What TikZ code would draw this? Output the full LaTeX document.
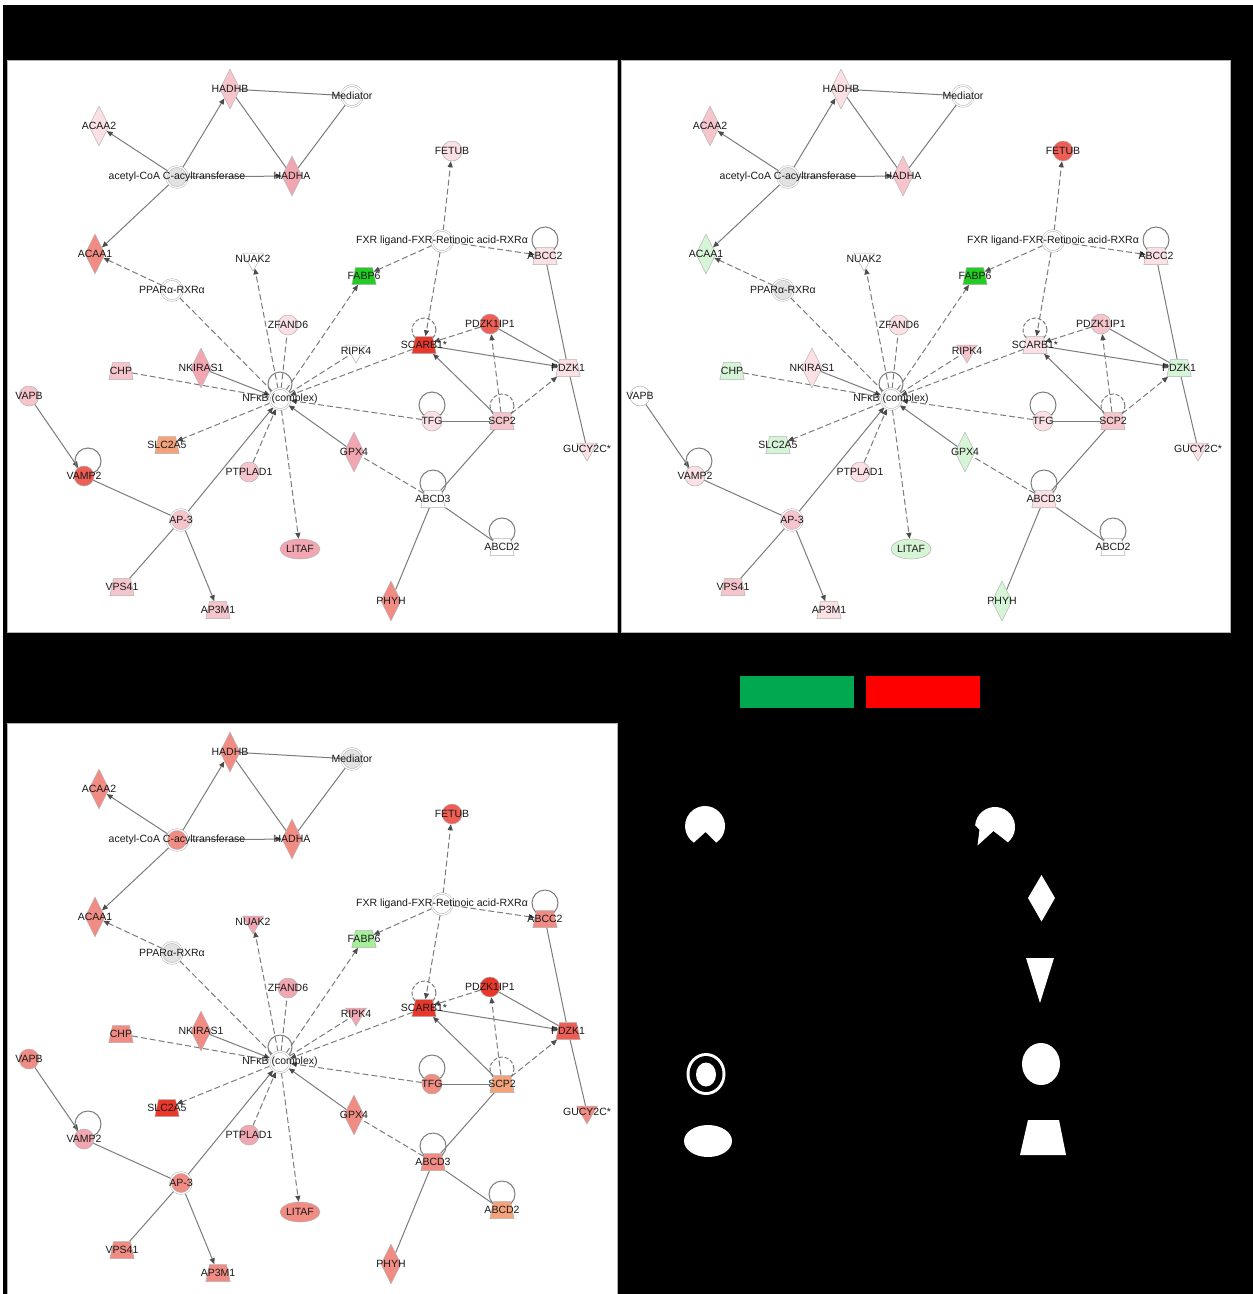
\documentclass[tikz,border=0pt]{standalone}
\usepackage{fontspec}
\newfontfamily\ipafont{Liberation Sans}
\usetikzlibrary{arrows.meta, shapes.geometric}
\usepackage{xcolor}
% palette of expression fills
\definecolor{wh}{HTML}{FFFFFF}
\definecolor{gy}{HTML}{E2E2E2}
\definecolor{pkA}{HTML}{FBE0E4}
\definecolor{pkB}{HTML}{F6C5CC}
\definecolor{pkC}{HTML}{F2A6B1}
\definecolor{sal}{HTML}{F08C84}
\definecolor{rdA}{HTML}{EE5E54}
\definecolor{rdB}{HTML}{E8382C}
\definecolor{gnA}{HTML}{D6F5D6}
\definecolor{gnB}{HTML}{22CC22}
\definecolor{gnC}{HTML}{A6EE9A}
\definecolor{orA}{HTML}{F4A27A}
\definecolor{legendgreen}{RGB}{0,169,79}
\definecolor{legendred}{RGB}{255,0,0}
\definecolor{edgegray}{HTML}{7C7C7C}

\pgfdeclarelayer{bg}\pgfdeclarelayer{links}
\pgfsetlayers{bg,links,main}

\tikzset{
  gene/.style={draw=gray!60, line width=0.5pt, inner sep=0.5pt},
  enzyme/.style={gene, diamond, minimum width=20pt, minimum height=40pt},
  other/.style={gene, circle, minimum size=20pt},
  cplx/.style={gene, circle, double, double distance=1.2pt, minimum size=21pt},
  transp/.style={gene, trapezium, trapezium left angle=78, trapezium right angle=78, minimum width=22pt, minimum height=17pt},
  kinase/.style={gene, regular polygon, regular polygon sides=3, shape border rotate=180, minimum size=24pt},
  tfac/.style={gene, ellipse, minimum width=40pt, minimum height=20pt},
  lbl/.style={font=\ipafont\fontsize{10.5}{12}\selectfont, text=black!90, inner sep=0pt},
  rel/.style={draw=edgegray, line width=1pt},
  ind/.style={rel, dash pattern=on 6pt off 3pt},
  act/.style={-{Triangle[length=6pt,width=5pt,color=black!70]}},
  selfloop/.style={draw=edgegray, line width=1pt}
}

% one fill per gene and panel
\newcommand\setfills[2]{\foreach \n/\c in {#2}{\xglobal\colorlet{c#1\n}{\c}}}

\setfills{A}{HADHB/pkB,Mediator/wh,ACAA2/pkA,accoa/gy,HADHA/pkC,FETUB/pkA,FXR/wh,ABCC2/pkA,ACAA1/sal,NUAK2/wh,FABP6/gnB,PPAR/wh,ZFAND6/pkA,PDZK1IP1/rdA,SCARB1/rdB,RIPK4/wh,NKIRAS1/pkC,CHP/pkB,PDZK1/pkA,NFkB/wh,VAPB/pkB,TFG/pkA,SCP2/pkB,SLC2A5/orA,GPX4/pkC,GUCY2C/pkA,VAMP2/rdA,PTPLAD1/pkB,ABCD3/wh,AP3/pkB,LITAF/pkC,ABCD2/wh,VPS41/pkB,AP3M1/pkB,PHYH/sal}
\setfills{B}{HADHB/pkA,Mediator/wh,ACAA2/pkB,accoa/gy,HADHA/pkB,FETUB/rdA,FXR/wh,ABCC2/pkA,ACAA1/gnA,NUAK2/wh,FABP6/gnB,PPAR/gy,ZFAND6/pkA,PDZK1IP1/pkB,SCARB1/pkA,RIPK4/pkB,NKIRAS1/pkA,CHP/gnA,PDZK1/gnA,NFkB/wh,VAPB/wh,TFG/pkA,SCP2/pkB,SLC2A5/gnA,GPX4/gnA,GUCY2C/pkA,VAMP2/pkA,PTPLAD1/pkA,ABCD3/pkA,AP3/pkB,LITAF/gnA,ABCD2/wh,VPS41/pkB,AP3M1/pkA,PHYH/gnA}
\setfills{C}{HADHB/sal,Mediator/gy,ACAA2/sal,accoa/sal,HADHA/sal,FETUB/rdA,FXR/wh,ABCC2/sal,ACAA1/sal,NUAK2/pkC,FABP6/gnC,PPAR/gy,ZFAND6/pkC,PDZK1IP1/rdB,SCARB1/rdB,RIPK4/pkC,NKIRAS1/sal,CHP/sal,PDZK1/rdA,NFkB/wh,VAPB/sal,TFG/sal,SCP2/orA,SLC2A5/rdB,GPX4/sal,GUCY2C/sal,VAMP2/pkC,PTPLAD1/pkC,ABCD3/sal,AP3/sal,LITAF/sal,ABCD2/orA,VPS41/sal,AP3M1/sal,PHYH/sal}

% the gene network, drawn once per panel
\newcommand\network[1]{%
  \node[enzyme, fill=c#1HADHB, label={[lbl]center:HADHB}] (#1HADHB) at (230,89) {};
  \node[cplx, fill=c#1Mediator, label={[lbl]center:Mediator}] (#1Mediator) at (352,96) {};
  \node[enzyme, fill=c#1ACAA2, label={[lbl]center:ACAA2}] (#1ACAA2) at (99,126) {};
  \node[cplx, fill=c#1accoa, label={[lbl]center:acetyl-CoA C-acyltransferase}] (#1accoa) at (177,177) {};
  \node[enzyme, fill=c#1HADHA, label={[lbl]center:HADHA}] (#1HADHA) at (292,176) {};
  \node[other, fill=c#1FETUB, label={[lbl]center:FETUB}] (#1FETUB) at (452,151) {};
  \node[cplx, fill=c#1FXR, label={[lbl]center:FXR ligand-FXR-Retinoic acid-RXRα}] (#1FXR) at (442,241) {};
  \node[transp, fill=c#1ABCC2, label={[lbl]center:ABCC2}] (#1ABCC2) at (545,256) {};
  \node[enzyme, fill=c#1ACAA1, label={[lbl]center:ACAA1}] (#1ACAA1) at (95,254) {};
  \node[kinase, fill=c#1NUAK2, label={[lbl]center:NUAK2}] (#1NUAK2) at (253,259) {};
  \node[transp, fill=c#1FABP6, label={[lbl]center:FABP6}] (#1FABP6) at (364,276) {};
  \node[cplx, fill=c#1PPAR, label={[lbl]center:PPARα-RXRα}] (#1PPAR) at (172,290) {};
  \node[other, fill=c#1ZFAND6, label={[lbl]center:ZFAND6}] (#1ZFAND6) at (288,325) {};
  \node[other, fill=c#1PDZK1IP1, label={[lbl]center:PDZK1IP1}] (#1PDZK1IP1) at (490,324) {};
  \node[transp, fill=c#1SCARB1, label={[lbl]center:SCARB1*}] (#1SCARB1) at (424,345) {};
  \node[kinase, fill=c#1RIPK4, label={[lbl]center:RIPK4}] (#1RIPK4) at (356,351) {};
  \node[enzyme, fill=c#1NKIRAS1, label={[lbl]center:NKIRAS1}] (#1NKIRAS1) at (201,368) {};
  \node[transp, fill=c#1CHP, label={[lbl]center:CHP}] (#1CHP) at (121,371) {};
  \node[transp, fill=c#1PDZK1, label={[lbl]center:PDZK1}] (#1PDZK1) at (568,368) {};
  \node[cplx, fill=c#1NFkB, label={[lbl]center:NFκB (complex)}] (#1NFkB) at (280,399) {};
  \node[other, fill=c#1VAPB, label={[lbl]center:VAPB}] (#1VAPB) at (29,396) {};
  \node[other, fill=c#1TFG, label={[lbl]center:TFG}] (#1TFG) at (432,421) {};
  \node[transp, fill=c#1SCP2, label={[lbl]center:SCP2}] (#1SCP2) at (502,421) {};
  \node[transp, fill=c#1SLC2A5, label={[lbl]center:SLC2A5}] (#1SLC2A5) at (167,445) {};
  \node[enzyme, fill=c#1GPX4, label={[lbl]center:GPX4}] (#1GPX4) at (354,452) {};
  \node[kinase, fill=c#1GUCY2C, label={[lbl]center:GUCY2C*}] (#1GUCY2C) at (587,449) {};
  \node[other, fill=c#1VAMP2, label={[lbl]center:VAMP2}] (#1VAMP2) at (84,476) {};
  \node[other, fill=c#1PTPLAD1, label={[lbl]center:PTPLAD1}] (#1PTPLAD1) at (249,472) {};
  \node[transp, fill=c#1ABCD3, label={[lbl]center:ABCD3}] (#1ABCD3) at (433,499) {};
  \node[cplx, fill=c#1AP3, label={[lbl]center:AP-3}] (#1AP3) at (181,520) {};
  \node[tfac, fill=c#1LITAF, label={[lbl]center:LITAF}] (#1LITAF) at (300,549) {};
  \node[transp, fill=c#1ABCD2, label={[lbl]center:ABCD2}] (#1ABCD2) at (502,547) {};
  \node[transp, fill=c#1VPS41, label={[lbl]center:VPS41}] (#1VPS41) at (122,587) {};
  \node[transp, fill=c#1AP3M1, label={[lbl]center:AP3M1}] (#1AP3M1) at (218,610) {};
  \node[enzyme, fill=c#1PHYH, label={[lbl]center:PHYH}] (#1PHYH) at (391,601) {};
  \begin{pgfonlayer}{links}
    % direct relations
    \draw[rel,act] (#1accoa) -- (#1HADHB);
    \draw[rel,act] (#1accoa) -- (#1ACAA2);
    \draw[rel,act] (#1accoa) -- (#1HADHA);
    \draw[rel,act] (#1accoa) -- (#1ACAA1);
    \draw[rel] (#1HADHB) -- (#1Mediator);
    \draw[rel] (#1HADHB) -- (#1HADHA);
    \draw[rel] (#1Mediator) -- (#1HADHA);
    \draw[rel] (#1ABCC2) -- (#1PDZK1);
    \draw[rel] (#1PDZK1) -- (#1GUCY2C);
    \draw[rel,act] (#1SCARB1) -- (#1PDZK1);
    \draw[rel] (#1PDZK1IP1) -- (#1PDZK1);
    \draw[rel,act] (#1SCP2) -- (#1SCARB1);
    \draw[rel] (#1TFG) -- (#1SCP2);
    \draw[rel] (#1SCP2) -- (#1ABCD3);
    \draw[rel] (#1ABCD3) -- (#1ABCD2);
    \draw[rel] (#1ABCD3) -- (#1PHYH);
    \draw[rel,act] (#1NKIRAS1) -- (#1NFkB);
    \draw[rel,act] (#1GPX4) -- (#1NFkB);
    \draw[rel,act] (#1AP3) -- (#1NFkB);
    \draw[rel,act] (#1VAPB) -- (#1VAMP2);
    \draw[rel] (#1VAMP2) -- (#1AP3);
    \draw[rel] (#1AP3) -- (#1VPS41);
    \draw[rel,act] (#1AP3) -- (#1AP3M1);
    % indirect relations
    \draw[ind,act] (#1PPAR) -- (#1ACAA1);
    \draw[ind] (#1PPAR) -- (#1NFkB);
    \draw[ind,act] (#1NFkB) -- (#1NUAK2);
    \draw[ind] (#1NFkB) -- (#1ZFAND6);
    \draw[ind,act] (#1NFkB) -- (#1FABP6);
    \draw[ind,act] (#1FXR) -- (#1FABP6);
    \draw[ind,act] (#1FXR) -- (#1FETUB);
    \draw[ind,act] (#1FXR) -- (#1SCARB1);
    \draw[ind,act] (#1FXR) -- (#1ABCC2);
    \draw[ind] (#1NFkB) -- (#1RIPK4);
    \draw[ind,act] (#1SCARB1) -- (#1NFkB);
    \draw[ind,act] (#1PDZK1IP1) -- (#1SCARB1);
    \draw[ind,act] (#1SCP2) -- (#1PDZK1IP1);
    \draw[ind,act] (#1SCP2) -- (#1PDZK1);
    \draw[ind] (#1CHP) -- (#1NFkB);
    \draw[ind,act] (#1TFG) -- (#1NFkB);
    \draw[ind,act] (#1NFkB) -- (#1SLC2A5);
    \draw[ind,act] (#1PTPLAD1) -- (#1NFkB);
    \draw[ind,act] (#1NFkB) -- (#1LITAF);
    \draw[ind] (#1ABCD3) -- (#1GPX4);
    % self-loops
    \draw[selfloop] ([yshift=16pt]#1ABCC2.center) circle[radius=13pt];
    \draw[selfloop] ([yshift=16pt]#1TFG.center) circle[radius=13pt];
    \draw[selfloop] ([yshift=16pt]#1ABCD3.center) circle[radius=13pt];
    \draw[selfloop] ([yshift=16pt]#1ABCD2.center) circle[radius=13pt];
    \draw[selfloop] ([yshift=15pt,xshift=4pt]#1VAMP2.center) circle[radius=13pt];
    \draw[selfloop] ([yshift=15pt]#1NFkB.center) circle[radius=12pt];
    \draw[selfloop, dash pattern=on 4pt off 2pt] ([yshift=15pt]#1SCARB1.center) circle[radius=12pt];
    \draw[selfloop, dash pattern=on 4pt off 2pt] ([yshift=15pt]#1SCP2.center) circle[radius=12pt];
  \end{pgfonlayer}
}

\begin{document}
\begin{tikzpicture}[x=1pt, y=-1pt]
  \useasboundingbox (0,0) rectangle (1253,1294);

  % black ground and the three white panels
  \begin{pgfonlayer}{bg}
    \fill[white] (0,0) rectangle (1253,1294);
    \fill[black] (3,5) rectangle (1253,1294);
    \fill[white, draw=gray!60] (7,60) rectangle (617,632);
    \fill[white, draw=gray!60] (621,60) rectangle (1230,632);
    \fill[white, draw=gray!60] (7,723) rectangle (617,1294);
  \end{pgfonlayer}

  \begin{scope}
    \network{A}
  \end{scope}
  \begin{scope}[shift={(611,0)}]
    \network{B}
  \end{scope}
  \begin{scope}[shift={(0,663)}]
    \network{C}
  \end{scope}

  % legend — colour bar
  \fill[legendgreen] (740,676) rectangle (854,708);
  \fill[legendred] (866,676) rectangle (980,708);

  % legend — shapes
  \fill[white] (705.5,832) -- (716.2,842.6) arc[start angle=56, end angle=-236, radius=20] -- cycle;
  \fill[white] (979.5,829.5) -- (977.5,845.5) -- (993.5,831) -- (1007.9,842.3)
    arc[start angle=50, end angle=-175, radius=20] -- cycle;
  \fill[white] (1041.5,875) -- (1055,898) -- (1041.5,921.5) -- (1028,898) -- cycle;
  \fill[white] (1026,958) -- (1054,958) -- (1040,1003) -- cycle;
  \fill[white] (1041,1064) ellipse[x radius=19, y radius=21];
  \fill[white] (706,1074) ellipse[x radius=19.5, y radius=21];
  \fill[black] (706,1074) ellipse[x radius=16.5, y radius=18];
  \fill[white] (706,1074.5) ellipse[x radius=10, y radius=12];
  \fill[white] (708,1141) ellipse[x radius=24, y radius=16];
  \fill[white] (1028,1120) -- (1059,1120) -- (1066,1155) -- (1020,1155) -- cycle;
\end{tikzpicture}
\end{document}
